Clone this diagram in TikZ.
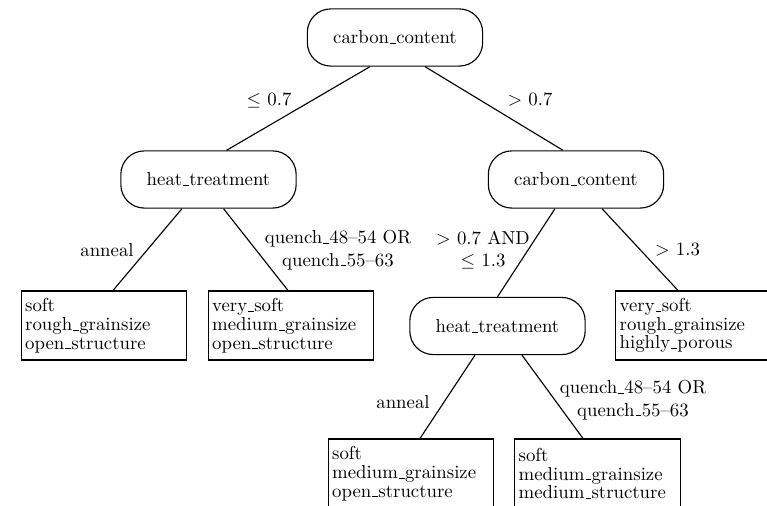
\documentclass[tikz,border=0pt]{standalone}
\usepackage{tikz}
\usetikzlibrary{calc}
\usetikzlibrary{positioning}

% short low line, as in the old plain TeX \_
\newcommand{\usc}{\leavevmode\kern.06em\vbox{\hrule width.3em height .4pt}\kern.02em}

\tikzset{
  test/.style={draw, line width=0.6pt, rounded corners=12.5pt, minimum width=3.28cm, minimum height=1.07cm},
  leaf/.style={draw, line width=0.6pt, rectangle, text width=2.95cm, align=left, inner xsep=0.07cm,
    minimum height=1.29cm, font=\fontsize{10}{10}\selectfont},
  cond/.style={align=center, inner sep=1pt},
  branch/.style={line width=0.6pt}
}

\begin{document}
\begin{tikzpicture}[x=0.0187cm, y=-0.0187cm]
            \useasboundingbox (0,0) rectangle (767,506);
            \fill[white] (0,0) rectangle (767,506);
            \clip (0,0) rectangle (767,506);
            % inner tests
            \node[test] at (395,37.5) (root) {carbon\usc content};
            \node[test] at (208.5,179.5) (heatL) {heat\usc treatment};
            \node[test] at (576,179.5) (carbonR) {carbon\usc content};
            \node[test] at (497.5,326) (heatM) {heat\usc treatment};
            % leaves
            \node[leaf] at (104,325.5) (leafA) {soft\\rough\usc grainsize\\open\usc structure};
            \node[leaf] at (291,325.5) (leafB) {very\usc soft\\medium\usc grainsize\\open\usc structure};
            \node[leaf] at (698.5,325.5) (leafC) {very\usc soft\\rough\usc grainsize\\highly\usc porous};
            \node[leaf] at (411,473.5) (leafD) {soft\\medium\usc grainsize\\open\usc structure};
            \node[leaf] at (597.5,473.5) (leafE) {soft\\medium\usc grainsize\\medium\usc structure};
            % branches
            \draw[branch] ($(root.south)+(-25,0)$) -- ($(heatL.north)+(18,0)$);
            \draw[branch] ($(root.south)+(30,0)$) -- ($(carbonR.north)+(-13,0)$);
            \draw[branch] ($(heatL.south)+(-26.5,0)$) -- ($(leafA.north)+(9,0)$);
            \draw[branch] ($(heatL.south)+(15,0)$) -- ($(leafB.north)+(-3,0)$);
            \draw[branch] ($(carbonR.south)+(-21,0)$) -- (heatM.north);
            \draw[branch] ($(carbonR.south)+(26,0)$) -- ($(leafC.north)+(-20.5,0)$);
            \draw[branch] ($(heatM.south)+(-22.5,0)$) -- ($(leafD.north)+(9,0)$);
            \draw[branch] ($(heatM.south)+(24.5,0)$) -- ($(leafE.north)+(-14.5,0)$);
            % conditions
            \node[cond] at (269,100) (c1) {$\leq$ 0.7};
            \node[cond] at (530,100) (c2) {$>$ 0.7};
            \node[cond] at (107,250) (c3) {anneal};
            \node[cond] at (338,250) (c4) {quench\usc 48--54 OR\\quench\usc 55--63};
            \node[cond] at (483,250) (c5) {$>$ 0.7 AND\\$\leq$ 1.3};
            \node[cond] at (677.5,250) (c6) {$>$ 1.3};
            \node[cond] at (403,402) (c7) {anneal};
            \node[cond] at (633,400) (c8) {quench\usc 48--54 OR\\quench\usc 55--63};
        \end{tikzpicture}
\end{document}
